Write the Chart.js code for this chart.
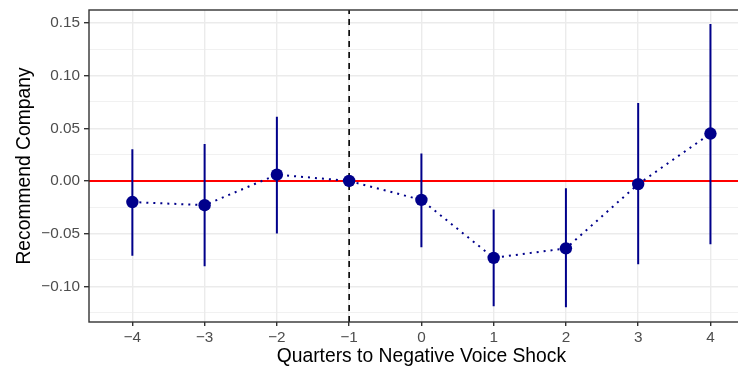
<!DOCTYPE html>
<html>
<head>
<meta charset="utf-8">
<script src="https://cdn.jsdelivr.net/npm/chart.js@4.4.0/dist/chart.umd.min.js"></script>
<style>
  html, body { margin: 0; padding: 0; background: #fff; }
  #wrap { width: 738px; height: 366px; overflow: hidden; }
</style>
</head>
<body>
<div id="wrap"><canvas id="grafico" width="760" height="366"></canvas></div>
<script>
// Quarters relative to the shock and the estimated effects
const quarters = [-4, -3, -2, -1, 0, 1, 2, 3, 4];
const estimate = [-0.020, -0.023, 0.006, 0.000, -0.018, -0.073, -0.064, -0.003, 0.045];
const ciLow    = [-0.071, -0.081, -0.050, null, -0.063, -0.119, -0.120, -0.079, -0.060];
const ciHigh   = [0.030, 0.035, 0.061, null, 0.026, -0.027, -0.007, 0.074, 0.149];

// Axis ticks
const xTickLabels = ['−4', '−3', '−2', '−1', '0', '1', '2', '3', '4'];
const yMajor = [-0.10, -0.05, 0.00, 0.05, 0.10, 0.15];
const yMinor = [-0.125, -0.075, -0.025, 0.025, 0.075, 0.125];
const yTickLabels = ['−0.10', '−0.05', '0.00', '0.05', '0.10', '0.15'];

const shockQuarter = -1;
const xMin = -4.6, xMax = 4.6;
const yMin = -0.1339, yMax = 0.1623;

const navy = '#00008B';
const fuente = '"Liberation Sans", Arial, sans-serif';

// error bars as one line with gaps
const barras = [];
quarters.forEach((q, i) => {
  if (ciLow[i] === null) return;
  barras.push({ x: q, y: ciLow[i] }, { x: q, y: ciHigh[i] }, { x: q, y: null });
});

const puntos = quarters.map((q, i) => ({ x: q, y: estimate[i] }));

const esMayor = v => yMajor.some(m => Math.abs(m - v) < 1e-9);

const bordePanel = {
  id: 'bordePanel',
  afterDraw(chart) {
    const { ctx, chartArea: a } = chart;
    ctx.save();
    ctx.strokeStyle = '#333333';
    ctx.lineWidth = 1.4;
    ctx.strokeRect(a.left, a.top, a.right - a.left, a.bottom - a.top);
    ctx.restore();
  }
};

new Chart(document.getElementById('grafico').getContext('2d'), {
  type: 'scatter',
  data: {
    datasets: [
      {
        type: 'scatter',
        data: puntos,
        backgroundColor: navy,
        borderWidth: 0,
        pointRadius: 6.2,
        order: 0
      },
      {
        type: 'line',
        data: puntos,
        borderColor: navy,
        borderWidth: 2,
        borderDash: [2, 5],
        pointRadius: 0,
        fill: false,
        order: 1
      },
      {
        type: 'line',
        data: barras,
        borderColor: navy,
        borderWidth: 2,
        pointRadius: 0,
        spanGaps: false,
        fill: false,
        order: 2
      },
      {
        type: 'line',
        data: [{ x: shockQuarter, y: yMin }, { x: shockQuarter, y: yMax }],
        borderColor: '#000000',
        borderWidth: 1.6,
        borderDash: [6, 5],
        pointRadius: 0,
        order: 3
      },
      {
        type: 'line',
        data: [{ x: xMin, y: 0 }, { x: xMax, y: 0 }],
        borderColor: '#FF0000',
        borderWidth: 2,
        pointRadius: 0,
        order: 4
      }
    ]
  },
  options: {
    responsive: false,
    animation: false,
    layout: { padding: { top: 10, right: 6, left: 0, bottom: 0 } },
    plugins: { legend: { display: false }, tooltip: { enabled: false } },
    scales: {
      x: {
        type: 'linear',
        min: xMin,
        max: xMax,
        afterBuildTicks: s => { s.ticks = quarters.map(v => ({ value: v })); },
        afterFit: s => { s.height = 44; s.paddingLeft = 0; s.paddingRight = 0; },
        ticks: {
          callback: (v, i) => xTickLabels[i],
          color: '#4D4D4D',
          font: { family: fuente, size: 15.3 },
          padding: 3,
          maxRotation: 0
        },
        grid: {
          color: '#EBEBEB',
          lineWidth: 1.4,
          tickLength: 4,
          tickColor: '#333333',
          tickWidth: 1.4
        },
        border: { display: false },
        title: {
          display: true,
          text: 'Quarters to Negative Voice Shock',
          color: '#000000',
          font: { family: fuente, size: 19.3, lineHeight: 1 },
          padding: { top: 0, bottom: 0 }
        }
      },
      y: {
        min: yMin,
        max: yMax,
        afterBuildTicks: s => {
          s.ticks = yMinor.concat(yMajor).sort((a, b) => a - b).map(v => ({ value: v }));
        },
        afterFit: s => { s.width = 89; s.paddingTop = 0; s.paddingBottom = 0; },
        ticks: {
          callback: v => esMayor(v) ? yTickLabels[yMajor.findIndex(m => Math.abs(m - v) < 1e-9)] : '',
          color: '#4D4D4D',
          font: { family: fuente, size: 15.3 },
          padding: 4
        },
        grid: {
          color: '#EBEBEB',
          lineWidth: c => esMayor(c.tick.value) ? 1.4 : 0.7,
          tickLength: 5,
          tickColor: c => esMayor(c.tick.value) ? '#333333' : 'rgba(0,0,0,0)',
          tickWidth: 1.4
        },
        border: { display: false },
        title: {
          display: true,
          text: 'Recommend Company',
          color: '#000000',
          font: { family: fuente, size: 19.3, lineHeight: 1 },
          padding: { top: 15.5, bottom: 0 }
        }
      }
    }
  },
  plugins: [bordePanel]
});
</script>
</body>
</html>
